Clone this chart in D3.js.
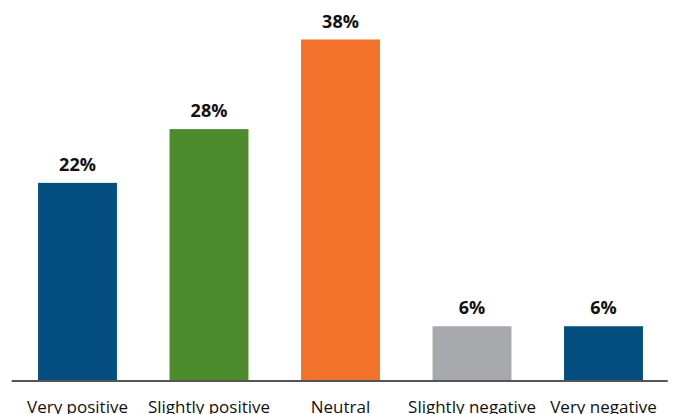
<!DOCTYPE html>
<html>
<head>
<meta charset="utf-8">
<script src="https://cdn.jsdelivr.net/npm/d3@7"></script>
<style>
  html, body { margin: 0; padding: 0; background: #ffffff; }
  svg { display: block; }
</style>
</head>
<body>
<svg id="chart" width="675" height="414"></svg>
<script>
// Survey sentiment distribution
const categories = ["Very positive", "Slightly positive", "Neutral", "Slightly negative", "Very negative"];
const values = [22, 28, 38, 6, 6];
const colors = ["#034e7e", "#4e8a2e", "#f2722b", "#a8a9ac", "#034e7e"];

const svg = d3.select("#chart");
const baseY = 380;

const x = d3.scaleBand()
  .domain(categories)
  .range([11.75, 669.25])
  .paddingInner(0.4)
  .paddingOuter(0.2);

const y = d3.scaleLinear()
  .domain([0, 38])
  .range([baseY, 39.5]);

const font = "'Open Sans', 'Noto Sans', sans-serif";

svg.selectAll("rect.bar")
  .data(values)
  .join("rect")
  .attr("class", "bar")
  .attr("x", (d, i) => x(categories[i]))
  .attr("width", x.bandwidth())
  .attr("y", d => y(d))
  .attr("height", d => y(0) - y(d))
  .attr("fill", (d, i) => colors[i]);

svg.selectAll("text.value")
  .data(values)
  .join("text")
  .attr("class", "value")
  .attr("x", (d, i) => x(categories[i]) + x.bandwidth() / 2)
  .attr("y", d => y(d) - 12)
  .attr("text-anchor", "middle")
  .attr("font-family", font)
  .attr("font-weight", 700)
  .attr("font-size", 18)
  .attr("fill", "#111")
  .text(d => d + "%");

// Baseline axis with category labels
const axis = d3.axisBottom(x).tickSize(0).tickPadding(0);
const g = svg.append("g")
  .attr("transform", `translate(0,${baseY + 1})`)
  .call(axis);
g.select(".domain")
  .attr("d", `M${x.range()[0]},0H${x.range()[1] - 1.5}`)
  .attr("stroke", "#555")
  .attr("stroke-width", 2);
g.selectAll(".tick text")
  .attr("y", 32)
  .attr("dy", 0)
  .attr("font-family", font)
  .attr("font-size", 17)
  .attr("fill", "#111");
</script>
</body>
</html>
